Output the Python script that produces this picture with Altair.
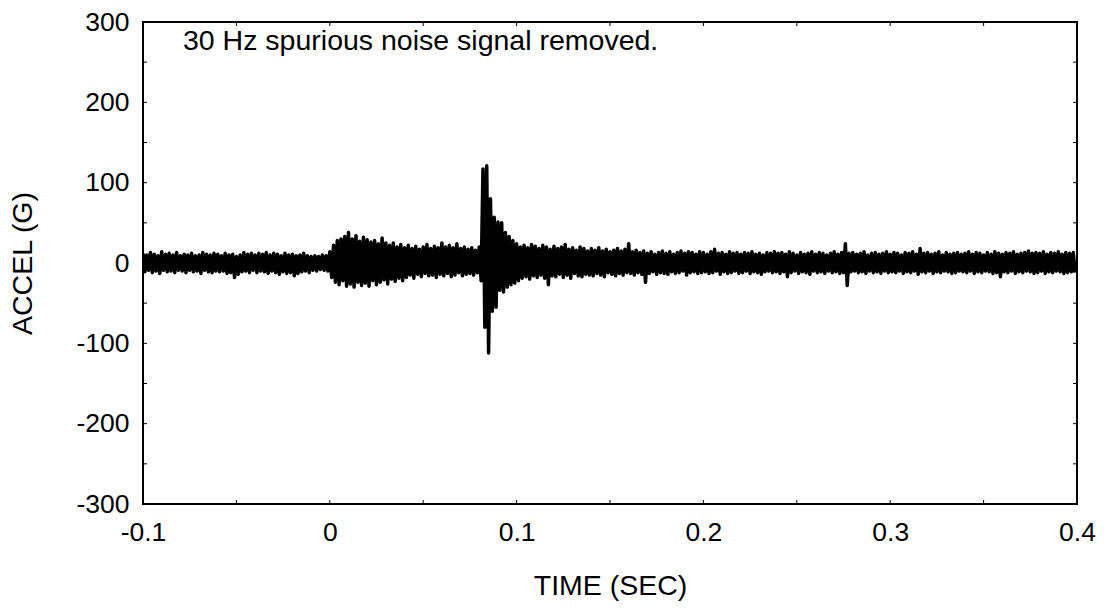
import altair as alt
import pandas as pd

# Upper / lower excursions of the signal, one pair every 2 ms starting at t = -0.1 s
T0 = -0.1
STEP = 0.002
upper = [
    12, 10, 13, 11, 9, 14, 11, 12, 10, 13,
    9, 11, 10, 12, 9, 10, 13, 11, 10, 12,
    11, 9, 12, 10, 11, 8, 10, 13, 11, 12,
    10, 12, 11, 13, 10, 12, 11, 9, 12, 10,
    11, 9, 10, 12, 9, 8, 9, 8, 10, 9,
    14, 22, 28, 30, 33, 38, 30, 34, 27, 32,
    29, 26, 28, 24, 31, 25, 22, 25, 20, 23,
    19, 22, 18, 21, 17, 20, 23, 18, 21, 19,
    25, 20, 22, 19, 24, 18, 20, 17, 19, 16,
    20, 117, 121, 80, 57, 51, 50, 38, 33, 28,
    24, 20, 22, 19, 23, 21, 18, 22, 20, 17,
    21, 18, 20, 23, 17, 19, 16, 20, 18, 15,
    18, 16, 19, 15, 17, 14, 16, 18, 15, 17,
    24, 14, 16, 13, 15, 12, 14, 11, 13, 15,
    12, 14, 11, 13, 15, 12, 14, 13, 11, 14,
    13, 11, 14, 17, 12, 13, 11, 14, 12, 13,
    11, 13, 12, 14, 11, 12, 10, 13, 12, 14,
    12, 13, 11, 14, 12, 10, 13, 11, 12, 14,
    11, 13, 12, 10, 12, 14, 11, 13, 24, 12,
    13, 11, 12, 14, 10, 12, 13, 11, 12, 14,
    11, 13, 12, 10, 13, 12, 14, 11, 18, 12,
    13, 11, 12, 14, 10, 13, 11, 12, 13, 11,
    12, 14, 11, 13, 12, 10, 13, 11, 14, 12,
    11, 13, 12, 14, 11, 12, 13, 15, 12, 13,
    12, 14, 11, 13, 12, 14, 11, 13, 12, 13,
]
lower = [
    -11, -9, -12, -10, -13, -9, -11, -10, -12, -9,
    -10, -12, -9, -11, -10, -13, -9, -11, -12, -10,
    -11, -10, -13, -12, -18, -14, -11, -10, -12, -9,
    -12, -10, -11, -13, -10, -12, -14, -11, -13, -12,
    -16, -13, -11, -10, -12, -9, -10, -8, -9, -10,
    -18, -24, -27, -22, -29, -26, -30, -24, -28, -25,
    -29, -22, -27, -24, -21, -26, -20, -23, -19, -22,
    -18, -15, -19, -14, -17, -13, -16, -15, -18, -14,
    -16, -13, -17, -15, -12, -16, -14, -13, -15, -12,
    -22, -80, -112, -60, -55, -34, -36, -30, -27, -25,
    -22, -19, -17, -20, -16, -18, -15, -19, -27, -16,
    -17, -14, -18, -15, -19, -13, -16, -17, -14, -15,
    -16, -13, -15, -17, -12, -14, -16, -13, -15, -12,
    -13, -15, -12, -14, -24, -13, -11, -14, -12, -13,
    -14, -11, -13, -12, -10, -15, -12, -11, -13, -12,
    -11, -13, -12, -10, -14, -11, -13, -12, -10, -13,
    -12, -10, -13, -11, -12, -14, -11, -10, -12, -11,
    -13, -11, -17, -12, -10, -13, -11, -12, -14, -10,
    -12, -11, -13, -10, -12, -11, -13, -12, -28, -11,
    -10, -12, -11, -13, -10, -12, -11, -13, -10, -12,
    -11, -12, -10, -13, -11, -12, -10, -14, -11, -12,
    -10, -13, -11, -12, -10, -11, -13, -12, -10, -11,
    -12, -10, -13, -11, -12, -10, -11, -13, -12, -17,
    -11, -12, -10, -13, -11, -12, -10, -11, -13, -12,
    -10, -13, -11, -12, -10, -11, -13, -12, -11, -12,
]

x_labels = [-0.1, 0, 0.1, 0.2, 0.3, 0.4]
x_ticks = [-0.1, -0.05, 0, 0.05, 0.1, 0.15, 0.2, 0.25, 0.3, 0.35, 0.4]
y_labels = [-300, -200, -100, 0, 100, 200, 300]
y_ticks = [-300, -250, -200, -150, -100, -50, 0, 50, 100, 150, 200, 250, 300]
note = "30 Hz spurious noise signal removed."

rows = []
for i, (u, l) in enumerate(zip(upper, lower)):
    t = T0 + STEP * i
    rows.append({"t": t, "v": u})
    rows.append({"t": t + STEP / 2, "v": l})
sig = pd.DataFrame(rows)

W, H = 934, 482
FONT = "Liberation Sans"
fix = "replace(datum.label, '\u2212', '-')"

xs = alt.Scale(domain=[-0.1, 0.4], nice=False, zero=False)
ys = alt.Scale(domain=[-300, 300], nice=False, zero=False)

line = alt.Chart(sig).mark_line(
    color="black", strokeWidth=3.5, strokeJoin="round", clip=True
).encode(
    x=alt.X("t:Q", scale=xs, title="TIME (SEC)",
            axis=alt.Axis(values=x_labels, format=".1~f", labelExpr=fix,
                          ticks=False, domain=False, grid=False, labelFlush=False,
                          labelPadding=15, titlePadding=26)),
    y=alt.Y("v:Q", scale=ys, title="ACCEL (G)",
            axis=alt.Axis(values=y_labels, format="d", labelExpr=fix,
                          ticks=False, domain=False, grid=False, labelFlush=False,
                          labelPadding=14, titlePadding=38)),
)

xt = pd.DataFrame({"t": x_ticks})
yt = pd.DataFrame({"v": y_ticks})

xb = alt.Chart(xt).mark_rule(color="black", strokeWidth=1).encode(
    x=alt.X("t:Q", scale=xs), y=alt.value(H), y2=alt.value(H - 4))
xtop = alt.Chart(xt).mark_rule(color="black", strokeWidth=1).encode(
    x=alt.X("t:Q", scale=xs), y=alt.value(0), y2=alt.value(4))
yl = alt.Chart(yt).mark_rule(color="black", strokeWidth=1).encode(
    y=alt.Y("v:Q", scale=ys), x=alt.value(0), x2=alt.value(4))
yr = alt.Chart(yt).mark_rule(color="black", strokeWidth=1).encode(
    y=alt.Y("v:Q", scale=ys), x=alt.value(W), x2=alt.value(W - 4))

txt = alt.Chart(pd.DataFrame({"s": [note]})).mark_text(
    align="left", baseline="alphabetic", font=FONT, fontSize=28.5, color="black"
).encode(x=alt.value(40), y=alt.value(28), text="s:N")

chart = alt.layer(line, xb, xtop, yl, yr, txt).properties(
    width=W, height=H,
    autosize=alt.AutoSizeParams(type="none"),
    padding={"left": 143, "top": 22, "right": 27, "bottom": 105},
    background="white",
).configure_view(stroke="black", strokeWidth=2).configure_axis(
    labelFont=FONT, labelFontSize=26.5, labelColor="black",
    titleFont=FONT, titleFontSize=28.5, titleColor="black", titleFontWeight="normal",
)

chart.save("out.html", embed_options={"renderer": "svg", "actions": False})
